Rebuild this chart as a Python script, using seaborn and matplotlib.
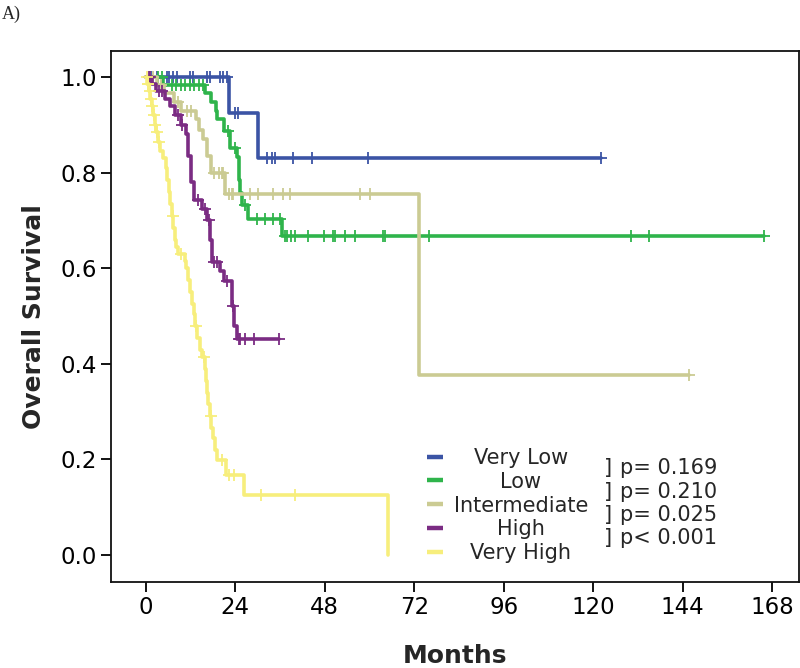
import numpy as np
import pandas as pd
import matplotlib
matplotlib.use("Agg")
import matplotlib.pyplot as plt
from matplotlib.lines import Line2D
import seaborn as sns

groups = ["Very Low", "Low", "Intermediate", "High", "Very High"]
colors = ["#3b54a5", "#2fb44b", "#cbcb93", "#7b2c83", "#f7ee7c"]
p_labels = ["p= 0.169", "p= 0.210", "p= 0.025", "p< 0.001"]

# Kaplan-Meier steps: time (months) and survival after the step
vl_t = [0, 22.2, 30.2, 122.1]
vl_s = [1.0, 0.925, 0.831, 0.831]
vl_cens = [1.5, 3.0, 5.6, 6.3, 7.4, 8.3, 11.9, 12.6, 16.4, 17.1, 19.8, 20.7, 21.8,
           24.0, 24.8, 32.5, 33.8, 34.7, 39.4, 44.7, 59.7, 122.1]

lo_t = [0, 4.6, 16.0, 17.4, 18.7, 19.2, 20.9, 22.7, 24.5, 24.9, 25.3, 25.8, 27.5, 36.5, 165.9]
lo_s = [1.0, 0.983, 0.966, 0.947, 0.930, 0.913, 0.887, 0.852, 0.833, 0.785, 0.757, 0.732,
        0.704, 0.667, 0.667]
lo_cens = [3.3, 4.4, 7.0, 8.2, 9.4, 10.6, 11.8, 13.0, 14.2, 15.3, 22.0, 24.0, 26.5, 29.8,
           32.0, 34.2, 36.0, 37.4, 38.0, 38.9, 40.1, 43.6, 47.7, 50.3, 50.8, 53.5, 56.2,
           63.6, 64.2, 76.1, 130.1, 134.9, 165.9]

in_t = [0, 3.0, 5.0, 7.5, 9.5, 13.5, 14.2, 15.2, 16.5, 17.5, 21.3, 73.3, 145.6]
in_s = [1.0, 0.983, 0.966, 0.948, 0.930, 0.912, 0.890, 0.870, 0.835, 0.800, 0.755, 0.377, 0.377]
in_cens = [1.0, 2.0, 4.0, 8.5, 11.0, 12.0, 18.2, 19.5, 20.5, 20.8, 22.2, 23.1, 23.5, 28.0,
           30.2, 34.2, 36.9, 38.7, 57.5, 60.2, 145.6]

hi_t = [0, 1.7, 2.8, 5.2, 6.5, 7.9, 9.5, 10.8, 11.4, 12.1, 12.8, 15.1, 16.4, 17.3, 17.7,
        19.8, 21.0, 23.0, 23.7, 24.4, 35.6]
hi_s = [1.0, 0.985, 0.970, 0.955, 0.940, 0.920, 0.900, 0.880, 0.835, 0.780, 0.742, 0.725,
        0.700, 0.660, 0.613, 0.595, 0.573, 0.520, 0.480, 0.451, 0.451]
hi_cens = [0.8, 1.2, 3.5, 4.2, 8.5, 9.8, 14.0, 16.0, 17.0, 18.3, 19.0, 21.8, 23.5, 24.9,
           25.3, 26.6, 28.9, 35.6]

vh_t = [0, 0.4, 0.8, 1.2, 1.6, 2.0, 2.4, 2.8, 3.3, 3.8,
        4.6, 5.4, 5.8, 6.2, 6.6, 7.0, 7.4, 7.8, 8.2, 8.6,
        10.4, 10.9, 11.4, 11.9, 12.3, 12.8, 13.3, 13.8, 14.5, 15.1,
        15.9, 16.2, 16.5, 16.8, 17.2, 17.6, 18.0, 18.6, 19.1, 21.4,
        26.2, 64.9]
vh_s = [1.0, 0.985, 0.97, 0.955, 0.94, 0.92, 0.90, 0.885, 0.865, 0.845,
        0.83, 0.81, 0.785, 0.76, 0.735, 0.71, 0.685, 0.66, 0.645, 0.63,
        0.615, 0.60, 0.575, 0.55, 0.525, 0.505, 0.48, 0.455, 0.43, 0.415,
        0.39, 0.365, 0.34, 0.315, 0.29, 0.265, 0.245, 0.22, 0.198, 0.168,
        0.126, 0.0]
vh_cens = [0.2, 0.5, 0.7, 1.0, 1.3, 1.7, 2.1, 2.5, 3.0, 3.5, 7.2, 9.3, 13.5, 15.5, 17.4,
           20.3, 22.2, 23.7, 30.9, 40.0]

curves = {
    "Very Low": (vl_t, vl_s, vl_cens),
    "Low": (lo_t, lo_s, lo_cens),
    "Intermediate": (in_t, in_s, in_cens),
    "High": (hi_t, hi_s, hi_cens),
    "Very High": (vh_t, vh_s, vh_cens),
}

step_rows = []
cens_rows = []
for g, (t, s, c) in curves.items():
    for ti, si in zip(t, s):
        step_rows.append((g, ti, si))
    # censored patients sit on the curve at their time
    idx = np.searchsorted(np.array(t), c, side="right") - 1
    for ci, si in zip(c, np.array(s)[idx]):
        cens_rows.append((g, ci, si))
steps = pd.DataFrame(step_rows, columns=["group", "months", "survival"])
cens = pd.DataFrame(cens_rows, columns=["group", "months", "survival"])

sns.set_style("ticks")
plt.rcParams["font.family"] = ["DejaVu Sans"]

fig, ax = plt.subplots(figsize=(8, 6.68), dpi=100)
fig.subplots_adjust(left=0.139, right=0.999, top=0.924, bottom=0.129)

for i, (g, col) in enumerate(zip(groups, colors)):
    sns.lineplot(data=steps[steps.group == g], x="months", y="survival", color=col,
                 drawstyle="steps-post", estimator=None, sort=False, lw=2.6,
                 legend=False, ax=ax, zorder=2 + i)
    sns.scatterplot(data=cens[cens.group == g], x="months", y="survival", color=col,
                    marker="+", s=80, linewidth=1.3, legend=False, ax=ax, zorder=2 + i)

ax.set_xlim(-9.3, 175.3)
ax.set_ylim(-0.056, 1.055)
ax.set_xticks(np.arange(0, 169, 24))
ax.set_yticks(np.arange(0, 1.01, 0.2))
ax.set_yticklabels([f"{v:.1f}" for v in np.arange(0, 1.01, 0.2)])
ax.tick_params(direction="out", length=7, width=1.3, labelsize=16.5, colors="black")
for sp in ax.spines.values():
    sp.set_linewidth(1.3)
    sp.set_color("#111111")
ax.set_xlabel("Months", fontsize=18, fontweight="bold", labelpad=18)
ax.set_ylabel("Overall Survival", fontsize=18, fontweight="bold", labelpad=10)

fig.text(0.002, 0.992, "A)", family="Liberation Serif", fontsize=13, va="top")

# legend: handles from matplotlib, labels re-drawn centred like the original
handles = [Line2D([], [], color=c, lw=3.2, solid_capstyle="butt") for c in colors]
leg = ax.legend(handles, groups, loc="upper left", bbox_to_anchor=(0.459, 0.252),
                frameon=False, fontsize=15, handlelength=0.75, handletextpad=0.8,
                labelspacing=0.18, borderpad=0, borderaxespad=0)
fig.canvas.draw()
inv = ax.transAxes.inverted()
for t in leg.get_texts():
    bb = t.get_window_extent()
    yc = inv.transform(((bb.x0 + bb.x1) / 2, (bb.y0 + bb.y1) / 2))[1]
    ax.text(0.5955, yc, t.get_text(), transform=ax.transAxes, ha="center", va="center",
            fontsize=15)
    t.set_visible(False)

p_y = [0.214, 0.170, 0.126, 0.082]
for y, p in zip(p_y, p_labels):
    ax.text(0.716, y, "]", transform=ax.transAxes, va="center", fontsize=15)
    ax.text(0.740, y, p, transform=ax.transAxes, va="center", fontsize=15)

fig.savefig("out.png", dpi=100)
